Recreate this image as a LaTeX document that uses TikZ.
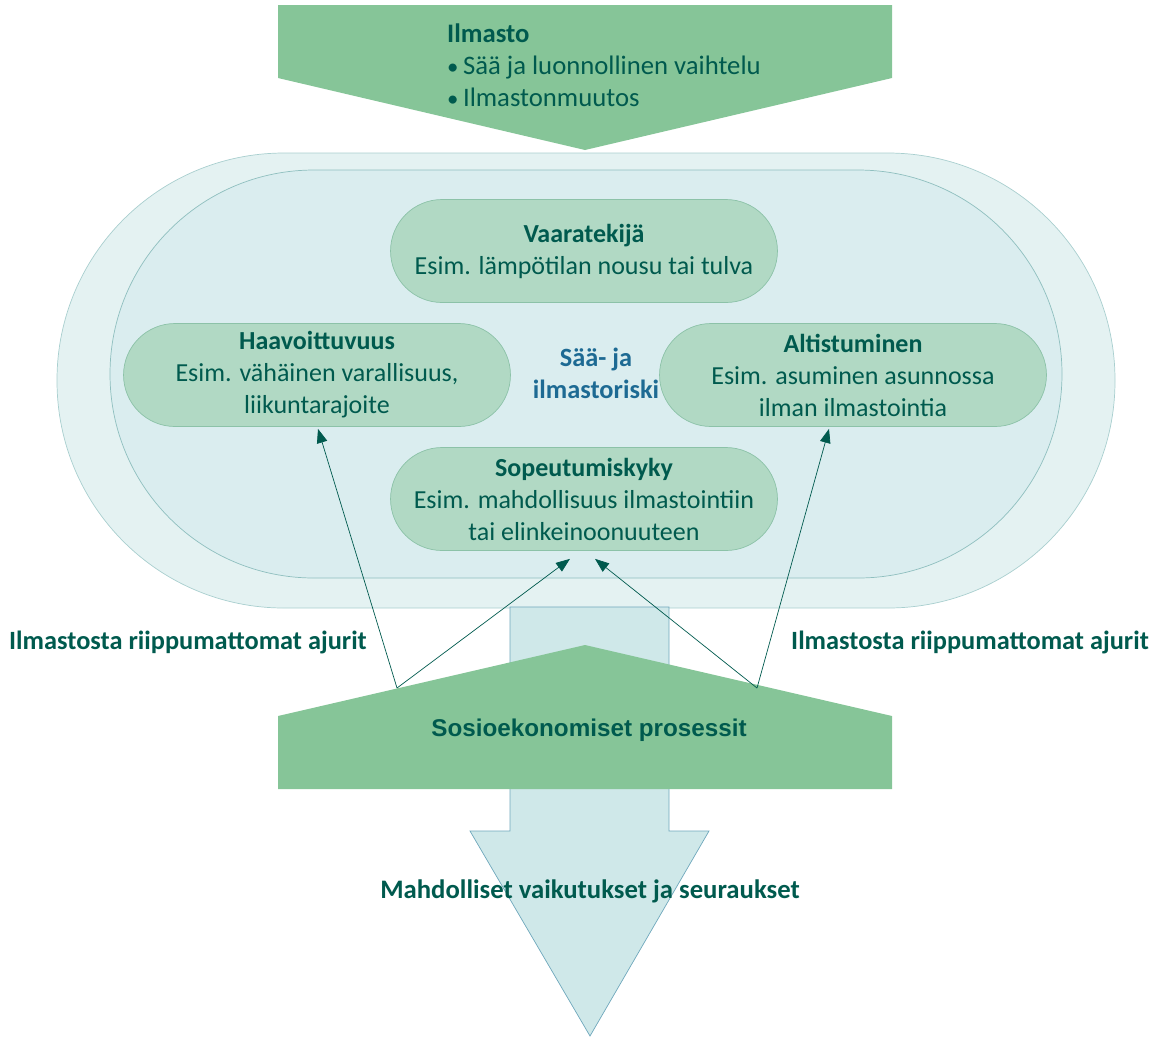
\documentclass[tikz,border=0pt]{standalone}
\usepackage{fontspec}
\setmainfont{Carlito}
\newfontfamily\arialfont{Liberation Sans}
\usetikzlibrary{arrows.meta,calc,positioning}
\definecolor{IChevron}{HTML}{86C598}
\definecolor{IPill}{HTML}{B1D9C4}
\definecolor{IPillLine}{HTML}{8CC2A8}
\definecolor{IOuter}{HTML}{E4F2F2}
\definecolor{IOuterLine}{HTML}{A9CFCF}
\definecolor{IInner}{HTML}{DAEDEF}
\definecolor{IInnerLine}{HTML}{8FBFBF}
\definecolor{IFlow}{HTML}{CFE8E9}
\definecolor{IFlowLine}{HTML}{6FA8BC}
\definecolor{ITeal}{HTML}{005A4E}
\definecolor{IBlue}{HTML}{1D6A93}

\tikzset{
  pill/.style={draw=IPillLine,fill=IPill,rounded corners=1.03cm,minimum width=7.74cm,
    minimum height=2.06cm,align=center,text=ITeal,font=\fontsize{14.8}{18.2}\selectfont},
  driver/.style={text=ITeal,font=\fontsize{15}{18}\selectfont\bfseries},
  link/.style={ITeal,thin,-{Triangle[length=8pt,width=6pt]}}
}

\begin{document}
\begin{tikzpicture}[x=0.02cm,y=-0.02cm]
        \useasboundingbox (0,0) rectangle (1159,1039);
        % risk ovals
        \draw[IOuterLine,fill=IOuter,rounded corners=4.54cm] (57,153) rectangle (1115,608);
        \draw[IInnerLine,fill=IInner,rounded corners=4.08cm] (110,170) rectangle (1062,578);
        % climate chevron
        \fill[IChevron] (278,5) -- (892,5) -- (892,78) -- (585,150) -- (278,78) -- cycle;
        \node[anchor=west,align=left,text=ITeal,font=\fontsize{15.2}{18.2}\selectfont] (ilm) at (441,65)
          {\textbf{Ilmasto}\\{\fontsize{13}{13}\selectfont\textbullet}\,Sää ja luonnollinen vaihtelu\\{\fontsize{13}{13}\selectfont\textbullet}\,Ilmastonmuutos};
        % components
        \node[pill] (vaara) at (584,251) {\textbf{Vaaratekijä}\\Esim. lämpötilan nousu tai tulva};
        \node[pill] (haav) at (317,375) {\textbf{Haavoittuvuus}\\Esim. vähäinen varallisuus,\\liikuntarajoite};
        \node[pill] (alti) at (853,375) {\textbf{Altistuminen}\\Esim. asuminen asunnossa\\ilman ilmastointia};
        \node[pill] (sope) at (584,499) {\textbf{Sopeutumiskyky}\\Esim. mahdollisuus ilmastointiin\\tai elinkeinoonuuteen};
        \node[align=center,text=IBlue,font=\fontsize{15}{18.2}\selectfont\bfseries] (riski) at (596,373) {Sää- ja\\ilmastoriski};
        % impacts arrow
        \draw[IFlowLine,fill=IFlow] (510,607) -- (669,607) -- (669,831) -- (709,831) -- (590,1036)
          -- (470,831) -- (510,831) -- cycle;
        % socioeconomic block
        \fill[IChevron] (278,716) -- (585,645) -- (892,716) -- (892,789) -- (278,789) -- cycle;
        \node[text=ITeal,font=\arialfont\fontsize{13.8}{16}\selectfont\bfseries] (sosio) at (589,730) {Sosioekonomiset prosessit};
        \node[driver,font=\fontsize{15.2}{18}\selectfont\bfseries] (vaik) at (590,891) {Mahdolliset vaikutukset ja seuraukset};
        \node[driver,anchor=west] (ajL) at (3,642) {Ilmastosta riippumattomat ajurit};
        \node[driver,anchor=west] (ajR) at (785,642) {Ilmastosta riippumattomat ajurit};
        % drivers
        \coordinate (dL) at (397,688);
        \coordinate (dR) at (757,688);
        \draw[link] (dL) -- ($(haav.south)+(1,2)$);
        \draw[link] (dL) -- ($(sope.south)+(-14,8)$);
        \draw[link] (dR) -- ($(sope.south)+(11,8)$);
        \draw[link] (dR) -- ($(alti.south)+(-24,2)$);
\end{tikzpicture}
\end{document}
